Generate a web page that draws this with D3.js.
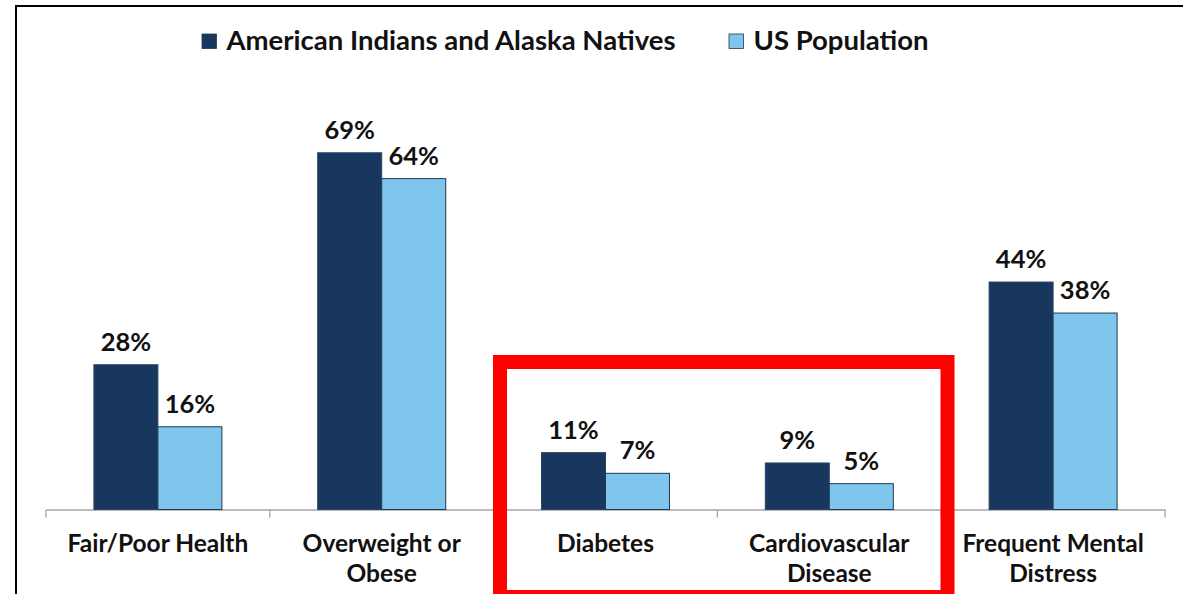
<!DOCTYPE html>
<html>
<head>
<meta charset="utf-8">
<script src="https://cdn.jsdelivr.net/npm/d3@7"></script>
<style>
  html, body { margin: 0; padding: 0; background: #fff; }
  svg { display: block; font-family: Lato, "Liberation Sans", sans-serif; font-weight: 700; }
</style>
</head>
<body>
<svg id="chart"></svg>
<script>
// data
var categories = ["Fair/Poor Health", "Overweight or Obese", "Diabetes", "Cardiovascular Disease", "Frequent Mental Distress"];
var categoryLines = [["Fair/Poor Health"], ["Overweight or", "Obese"], ["Diabetes"], ["Cardiovascular", "Disease"], ["Frequent Mental", "Distress"]];
var seriesNames = ["American Indians and Alaska Natives", "US Population"];
var aianValues = [28, 69, 11, 9, 44];
var usValues = [16, 64, 7, 5, 38];
var colors = ["#17375e", "#7ec6eb"];

var width = 1183, height = 594;
var baseY = 509.5;

var svg = d3.select("#chart").attr("width", width).attr("height", height);

// outer frame
svg.append("rect")
  .attr("x", 16).attr("y", 6)
  .attr("width", 1200).attr("height", 620)
  .attr("fill", "none").attr("stroke", "#000").attr("stroke-width", 2);

var x0 = d3.scaleBand().domain(categories).range([46, 1165]).padding(0);
var groupW = 128;
var x1 = d3.scaleBand().domain(seriesNames).range([0, groupW]);
var y = d3.scaleLinear().domain([0, 80]).range([baseY, baseY - 80 * 5.17]);

var table = categories.map(function(c, i) {
  return { cat: c, lines: categoryLines[i], vals: [aianValues[i], usValues[i]] };
});

// axis line
var axis = svg.append("g").attr("transform", "translate(0," + baseY + ")")
  .call(d3.axisBottom(x0).tickSize(0).tickFormat(""));
axis.select(".domain").attr("stroke", "#a6a6a6").attr("stroke-width", 1.3);

// boundary ticks
var bounds = categories.map(function(c) { return x0(c); }).concat([x0.range()[1]]);
svg.append("g").selectAll("line").data(bounds).enter().append("line")
  .attr("x1", function(d) { return d; }).attr("x2", function(d) { return d; })
  .attr("y1", baseY).attr("y2", baseY + 8)
  .attr("stroke", "#a6a6a6").attr("stroke-width", 1.3);

// bars
var groups = svg.append("g").selectAll("g.grp").data(table).enter().append("g")
  .attr("class", "grp")
  .attr("transform", function(d) { return "translate(" + (x0(d.cat) + (x0.bandwidth() - groupW) / 2) + ",0)"; });

groups.selectAll("rect").data(function(d) {
  return d.vals.map(function(v, j) { return { s: seriesNames[j], v: v, j: j }; });
}).enter().append("rect")
  .attr("x", function(d) { return x1(d.s); })
  .attr("y", function(d) { return y(d.v); })
  .attr("width", x1.bandwidth())
  .attr("height", function(d) { return baseY - y(d.v); })
  .attr("fill", function(d) { return colors[d.j]; })
  .attr("stroke", function(d) { return d.j == 0 ? "#2b4563" : "#25384d"; })
  .attr("stroke-width", 1);

groups.selectAll("text.val").data(function(d) {
  return d.vals.map(function(v, j) { return { s: seriesNames[j], v: v, j: j }; });
}).enter().append("text")
  .attr("class", "val")
  .attr("x", function(d) { return x1(d.s) + x1.bandwidth() / 2; })
  .attr("y", function(d) { return y(d.v) - 14; })
  .attr("text-anchor", "middle")
  .attr("font-size", 25.5)
  .attr("fill", "#111")
  .text(function(d) { return d.v + "%"; });

// category labels
var labels = svg.append("g").selectAll("text.cat").data(table).enter().append("text")
  .attr("class", "cat")
  .attr("x", function(d) { return x0(d.cat) + x0.bandwidth() / 2; })
  .attr("y", 551.5)
  .attr("text-anchor", "middle")
  .attr("font-size", 24.5)
  .attr("fill", "#111");
labels.selectAll("tspan").data(function(d) { return d.lines; }).enter().append("tspan")
  .attr("x", function() { return d3.select(this.parentNode).attr("x"); })
  .attr("dy", function(d, i) { return i == 0 ? 0 : 30; })
  .text(function(d) { return d; });

// legend
var legendX = [202, 729];
var legend = svg.append("g").selectAll("g").data(seriesNames).enter().append("g")
  .attr("transform", function(d, i) { return "translate(" + legendX[i] + ",34)"; });
legend.append("rect")
  .attr("width", 14.5).attr("height", 14.5)
  .attr("fill", function(d, i) { return colors[i]; })
  .attr("stroke", "#25384d").attr("stroke-width", 0.8);
legend.append("text")
  .attr("x", 24.5).attr("y", 15.5)
  .attr("font-size", 27.5)
  .attr("fill", "#111")
  .text(function(d) { return d; });

// highlight box
svg.append("rect")
  .attr("x", 500).attr("y", 362)
  .attr("width", 447.5).attr("height", 235)
  .attr("fill", "none").attr("stroke", "#ff0000").attr("stroke-width", 14);
</script>
</body>
</html>
